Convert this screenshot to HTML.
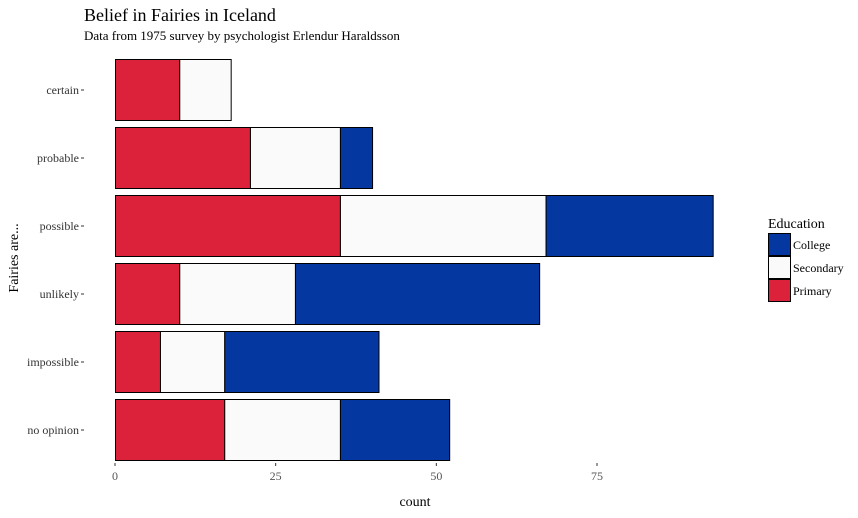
<!DOCTYPE html>
<html><head><meta charset="utf-8"><style>
body{margin:0;background:#fff;font-family:"Liberation Serif",serif;}
svg text{font-family:"Liberation Serif",serif;}
</style></head><body>
<svg id="c" width="858" height="513">
<text x="84" y="21" font-size="18">Belief in Fairies in Iceland</text>
<text x="84" y="40" font-size="13">Data from 1975 survey by psychologist Erlendur Haraldsson</text>
<text x="415" y="506" font-size="14" text-anchor="middle">count</text>
<text transform="translate(18,258) rotate(-90)" font-size="14" text-anchor="middle">Fairies are...</text>
<g id="bars"></g><g id="axes"></g>
<g>
<text x="768" y="228" font-size="14">Education</text>
<rect x="768.5" y="233.5" width="22" height="22" fill="#0437a0" stroke="#000"/>
<text x="793" y="249" font-size="12">College</text>
<rect x="768.5" y="256.5" width="22" height="22" fill="#fafafa" stroke="#000"/>
<text x="793" y="272" font-size="12">Secondary</text>
<rect x="768.5" y="279.5" width="22" height="22" fill="#dc213a" stroke="#000"/>
<text x="793" y="295" font-size="12">Primary</text>
</g>
</svg>
<script>
const categories=["certain","probable","possible","unlikely","impossible","no opinion"];
const primary=[10,21,35,10,7,17];
const secondary=[8,14,32,18,10,18];
const college=[0,5,26,38,24,17];
const xTicks=[0,25,50,75];
const NS="http://www.w3.org/2000/svg";
const x=v=>115+v*(482/75);
const yc=i=>90+i*68;
const bars=document.getElementById('bars'),axes=document.getElementById('axes');
function mk(p,t,a){const e=document.createElementNS(NS,t);for(const k in a)e.setAttribute(k,a[k]);p.appendChild(e);return e;}
categories.forEach((c,i)=>{
  let s=0;
  [[primary,"#dc213a","primary"],[secondary,"#fafafa","secondary"],[college,"#0437a0","college"]].forEach(([arr,col,nm])=>{
    const v=arr[i]; if(v<=0)return;
    const r=mk(bars,'rect',{x:x(s)+0.5,y:yc(i)-30.5,width:x(s+v)-x(s),height:61,fill:col,stroke:'#000'});
    
    
    s+=v;
  });
  const t=mk(axes,'text',{x:79,y:yc(i)+4,'font-size':12,'text-anchor':'end',fill:'#333'});
  t.textContent=c;
  
  
  const l=mk(axes,'line',{x1:81,x2:84,y1:yc(i),y2:yc(i),stroke:'#333'});
  
  
});
xTicks.forEach(v=>{
  const l=mk(axes,'line',{x1:x(v),x2:x(v),y1:463,y2:466,stroke:'#333'});
  
  
  const t=mk(axes,'text',{x:x(v),y:480,'font-size':12,'text-anchor':'middle',fill:'#555'});
  t.textContent=v;
  
  
});
</script>
</body></html>
